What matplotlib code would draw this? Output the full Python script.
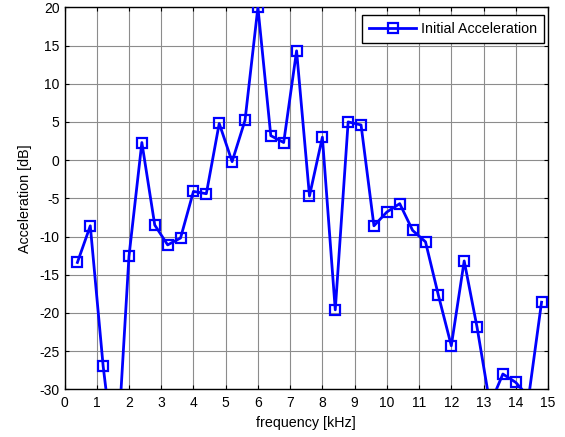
import matplotlib
matplotlib.use("Agg")
import matplotlib.pyplot as plt
from matplotlib.transforms import IdentityTransform

plt.rcParams['font.family'] = ['Liberation Sans', 'DejaVu Sans']
plt.rcParams['axes.unicode_minus'] = False

# Frequency bins [kHz] and measured acceleration levels [dB]
freq_khz = [0.4, 0.8, 1.2, 1.6, 2.0, 2.4, 2.8, 3.2, 3.6, 4.0, 4.4, 4.8,
            5.2, 5.6, 6.0, 6.4, 6.8, 7.2, 7.6, 8.0, 8.4, 8.8, 9.2, 9.6,
            10.0, 10.4, 10.8, 11.2, 11.6, 12.0, 12.4, 12.8, 13.2, 13.6,
            14.0, 14.4, 14.8]
accel_db = [-13.4, -8.6, -27.0, -41.0, -12.6, 2.3, -8.5, -11.1, -10.2, -4.1,
            -4.4, 4.8, -0.2, 5.2, 20.0, 3.2, 2.3, 14.3, -4.7, 3.0, -19.6,
            5.0, 4.6, -8.6, -6.8, -5.7, -9.2, -10.7, -17.7, -24.3, -13.2,
            -21.9, -32.0, -28.0, -29.1, -31.0, -18.6]

x_ticks = list(range(0, 16))
y_ticks = list(range(-30, 25, 5))

W, H = 565, 437
fig = plt.figure(figsize=(W / 100, H / 100), dpi=100)
ax = fig.add_axes([64.5 / W, 1 - 389.3 / H, (548 - 64.5) / W, (389.3 - 7.3) / H])

ax.plot(freq_khz, accel_db, color='#0000ff', linewidth=2.0, marker='s',
        markersize=7.5, markerfacecolor='none', markeredgecolor='#0000ff',
        markeredgewidth=1.6, label='Initial Acceleration', zorder=3)

ax.set_xlim(0, 15)
ax.set_ylim(-30, 20)
ax.set_xticks(x_ticks)
ax.set_yticks(y_ticks)
ax.tick_params(direction='in', top=True, right=True, length=3, width=0.8,
               labelsize=10, colors='black')
ax.tick_params(axis='x', pad=5)
ax.tick_params(axis='y', pad=3.5)
ax.grid(True, color='#8c8c8c', linewidth=0.8, linestyle='-')
ax.set_axisbelow(True)
for s in ax.spines.values():
    s.set_color('black')
    s.set_linewidth(1.0)

ax.set_xlabel('frequency [kHz]', fontsize=10.3, labelpad=4)
ax.set_ylabel('Acceleration [dB]', fontsize=10.3, labelpad=5)

# legend anchored by its upper-right corner in pixel coordinates
leg = ax.legend(loc='upper right', bbox_to_anchor=(544, H - 14.7),
                bbox_transform=IdentityTransform(), borderaxespad=0,
                fontsize=10.3, frameon=True, fancybox=False,
                borderpad=0.5, handlelength=3.3, handletextpad=0.3)
leg.get_frame().set_edgecolor('black')
leg.get_frame().set_linewidth(1.0)
leg.get_frame().set_alpha(1)

fig.savefig('out.png', dpi=100)
